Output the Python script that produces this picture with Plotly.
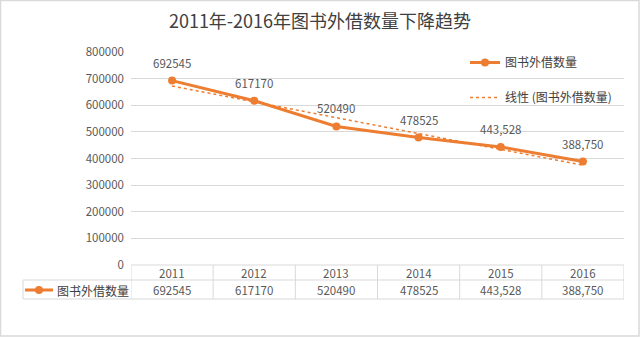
import numpy as np
import plotly.graph_objects as go

years = ["2011", "2012", "2013", "2014", "2015", "2016"]
loans = [692545, 617170, 520490, 478525, 443528, 388750]
loan_labels = ["692545", "617170", "520490", "478525", "443,528", "388,750"]
series_name = "图书外借数量"
trend_name = "线性 (图书外借数量)"
title_text = "2011年-2016年图书外借数量下降趋势"

W, H = 640, 337
L, R, T, B = 131, 16, 52, 72
PW, PH = W - L - R, H - T - B

def xp(px):
    return (px - L) / PW

def yp(py):
    return (H - B - py) / PH

ORANGE = "#ED7D31"
GRID = "#D9D9D9"
TXT = "#595959"
FONT = "Noto Sans CJK SC"

# linear trendline (least squares, as the spreadsheet does)
xi = np.arange(1, len(loans) + 1)
k, b0 = np.polyfit(xi, np.array(loans, dtype=float), 1)
trend = (k * xi + b0).tolist()

fig = go.Figure()
fig.add_trace(go.Scatter(
    x=years, y=loans, mode="lines+markers", name=series_name,
    line=dict(color=ORANGE, width=3), marker=dict(size=8, color=ORANGE),
    legendgroup="a", hoverinfo="skip"))
fig.add_trace(go.Scatter(
    x=years, y=trend, mode="lines", name=trend_name,
    line=dict(color=ORANGE, width=1.5, dash="dot"),
    legendgroup="b", hoverinfo="skip"))

ann = []
for i, (v, lab) in enumerate(zip(loans, loan_labels)):
    ann.append(dict(x=i, y=v, xref="x", yref="y", text=lab, showarrow=False,
                    yshift=18, font=dict(size=11.5, color=TXT, family=FONT)))
# table header and data row
for i, (yr, lab) in enumerate(zip(years, loan_labels)):
    ann.append(dict(x=i, y=yp(273), xref="x", yref="paper", text=yr, showarrow=False,
                    yanchor="middle", font=dict(size=11.5, color=TXT, family=FONT)))
    ann.append(dict(x=i, y=yp(290), xref="x", yref="paper", text=lab, showarrow=False,
                    yanchor="middle", font=dict(size=11.5, color=TXT, family=FONT)))
ann.append(dict(x=xp(55), y=yp(290), xref="paper", yref="paper", text=series_name,
                showarrow=False, xanchor="left", yanchor="middle",
                font=dict(size=12, color="#404040", family=FONT)))

shapes = []
line_style = dict(color=GRID, width=1)
shapes.append(dict(type="line", xref="paper", yref="paper", x0=0, x1=1, y0=yp(265), y1=yp(265), line=line_style))
for py in (280, 299):
    shapes.append(dict(type="line", xref="paper", yref="paper", x0=xp(23), x1=1, y0=yp(py), y1=yp(py), line=line_style))
for i in range(len(years) + 1):
    shapes.append(dict(type="line", xref="x", yref="paper", x0=i - 0.5, x1=i - 0.5,
                       y0=yp(265), y1=yp(299), line=line_style))
shapes.append(dict(type="line", xref="paper", yref="paper", x0=xp(23), x1=xp(23),
                   y0=yp(280), y1=yp(299), line=line_style))
# legend key in the table
shapes.append(dict(type="line", xref="paper", yref="paper", x0=xp(25), x1=xp(53),
                   y0=yp(290), y1=yp(290), line=dict(color=ORANGE, width=3)))
shapes.append(dict(type="circle", xref="paper", yref="paper", x0=xp(35), x1=xp(43),
                   y0=yp(294), y1=yp(286), fillcolor=ORANGE, line=dict(width=0)))
# chart border
shapes.append(dict(type="rect", xref="paper", yref="paper", x0=xp(0.5), x1=xp(639),
                   y0=yp(336), y1=yp(0.5), line=dict(color=GRID, width=1.5)))

fig.update_layout(
    width=W, height=H, margin=dict(l=L, r=R, t=T, b=B),
    paper_bgcolor="white", plot_bgcolor="white",
    title=dict(text=title_text, x=0.5, xanchor="center", y=1 - 22 / H, yanchor="middle",
               yref="container", font=dict(size=18, color="#404040", family=FONT)),
    xaxis=dict(type="category", range=[-0.5, 5.5], showticklabels=False, showgrid=False,
               zeroline=False, showline=False, ticks=""),
    yaxis=dict(range=[0, 800000], dtick=100000, tickformat="d", showgrid=True,
               gridcolor=GRID, gridwidth=1, zeroline=False, showline=False,
               tickfont=dict(size=11.5, color=TXT, family=FONT), ticklabelstandoff=6),
    legend=dict(x=xp(465), y=yp(48), xanchor="left", yanchor="top",
                bgcolor="rgba(0,0,0,0)", font=dict(size=12, color="#404040", family=FONT),
                traceorder="grouped", tracegroupgap=16, itemwidth=30),
    annotations=ann, shapes=shapes, showlegend=True,
)
fig.write_html("out.html")
